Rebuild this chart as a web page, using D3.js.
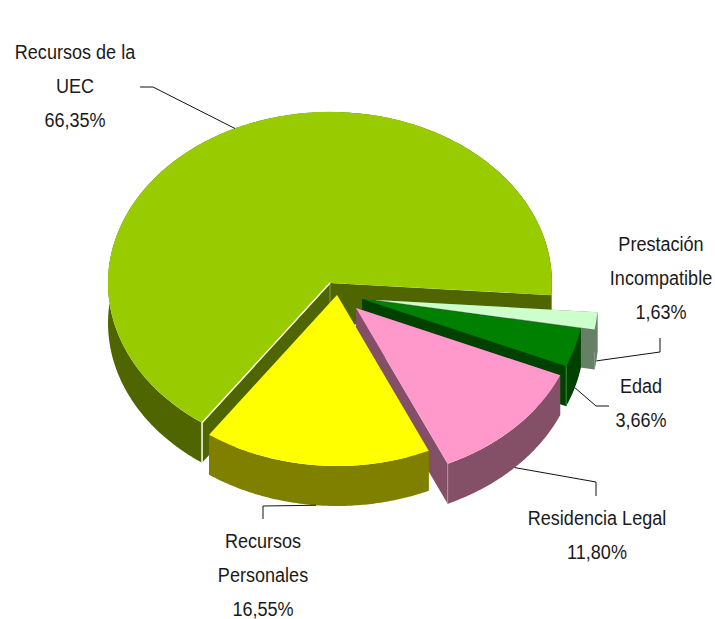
<!DOCTYPE html>
<html>
<head>
<meta charset="utf-8">
<script src="https://cdn.jsdelivr.net/npm/d3@7"></script>
<style>
    html, body { margin: 0; padding: 0; background: #fff; }
    text { font-family: "Liberation Sans", Arial, sans-serif; font-size: 21px; fill: #1a1a1a; }
</style>
</head>
<body>
<div id="chart"></div>
<script>
// chart values
const categories = ["Recursos de la UEC", "Prestación Incompatible", "Edad", "Residencia Legal", "Recursos Personales"];
const percents = [66.35, 1.63, 3.66, 11.80, 16.55];

// label lines per slice
const labelLines = [["Recursos de la", "UEC"], ["Prestación", "Incompatible"], ["Edad"], ["Residencia Legal"], ["Recursos", "Personales"]];

const topColors = ["#99cc00", "#ccffcc", "#008000", "#ff99cc", "#ffff00"];
const wallColors = ["#4f6600", "#668066", "#004000", "#845068", "#808000"];
const edgeColors = ["#ffffff", null, "#2f8a2f", "#c08ca6", null];

const width = 715, height = 619;
const depth = 40;
const narrow = 0.86; // the reference font is a narrow one, none is installed

// how far each slice is pulled out of the pie
const pullX = [0, 46, 32, 26, 7];
const pullY = [0, 17, 16, 25, 12];

// label anchors and elbows of the leader lines
const labelX = [75, 661, 641, 597, 263];
const labelY = [59, 251, 393, 525, 548];
const elbows = [
    [[153, 87], [140, 87]],
    [[660, 352], [660, 338]],
    [[596, 406], [609, 406]],
    [[596, 482], [596, 496]],
    [[263, 506], [263, 519]]
];

let svg = d3.select("#chart").append("svg")
    .attr("width", width)
    .attr("height", height)
    .style("display", "block");

// the pie is a unit circle squashed to an ellipse by these two scales
let x = d3.scaleLinear().domain([-1, 1]).range([108, 552]);
let y = d3.scaleLinear().domain([-1, 1]).range([112, 454]);

let pie = d3.pie()
    .value(d => d)
    .sort(null)
    .startAngle(215.2 * Math.PI / 180)
    .endAngle((215.2 + 360) * Math.PI / 180);

let slices = pie(percents);
let pct = d3.formatLocale({decimal: ",", thousands: ".", grouping: [3], currency: ["", ""]}).format(".2f");
let line = d3.line();

// point on the rim (or the centre with r = 0) of slice i
function rim(i, angle, r, down) {
    return [
        x(r * Math.sin(angle)) + pullX[i],
        y(-r * Math.cos(angle)) + pullY[i] + (down || 0)
    ];
}

function strokeEdge(g, pts, color, w) {
    g.append("path")
        .attr("d", line(pts))
        .attr("fill", "none")
        .attr("stroke", color)
        .attr("stroke-width", w);
}

function drawSlice(d, i) {
    let g = svg.append("g").attr("class", "slice");

    // outer wall, the top face hides the back part of it
    let angles = d3.range(d.startAngle, d.endAngle, 0.01).concat([d.endAngle]);
    let top = angles.map(a => rim(i, a, 1));
    let bottom = angles.map(a => rim(i, a, 1, depth)).reverse();
    g.append("path")
        .attr("d", line(top.concat(bottom)) + "Z")
        .attr("fill", wallColors[i]);

    // the two cut walls going into the centre
    [d.startAngle, d.endAngle].forEach(a => {
        g.append("path")
            .attr("d", line([rim(i, 0, 0), rim(i, a, 1), rim(i, a, 1, depth), rim(i, 0, 0, depth)]) + "Z")
            .attr("fill", wallColors[i]);
    });

    // top face
    let arc = d3.arc().innerRadius(0).outerRadius(1);
    g.append("path")
        .attr("d", arc(d))
        .attr("transform", "translate(" + (x(0) + pullX[i]) + "," + (y(0) + pullY[i]) + ") scale(" + (x(1) - x(0)) + "," + (y(1) - y(0)) + ")")
        .attr("fill", topColors[i]);

    // thin light lines on the corners of the walls
    if (i == 0) {
        let a = d.startAngle;
        strokeEdge(g, [rim(i, 0, 0), rim(i, 0, 0, depth)], "#8a9a50", 1);
        strokeEdge(g, [rim(i, d.endAngle, 1), rim(i, d.endAngle, 1, depth)], "#8a9a50", 1);
        strokeEdge(g, [rim(i, 0, 0), rim(i, a, 1), rim(i, a, 1, depth)], edgeColors[i], 1.5);
    } else if (edgeColors[i]) {
        strokeEdge(g, [rim(i, d.endAngle, 1), rim(i, d.endAngle, 1, depth)], edgeColors[i], 1);
    }
}

slices.forEach(drawSlice);

// leader lines start at the middle of the slice rim
slices.forEach((d, i) => {
    let mid = (d.startAngle + d.endAngle) / 2;
    let start = rim(i, mid, 1, i == 0 ? 0 : depth);
    svg.append("path")
        .attr("d", line([start].concat(elbows[i])))
        .attr("fill", "none")
        .attr("stroke", "#111")
        .attr("stroke-width", 1);
});

// labels
slices.forEach((d, i) => {
    let rows = labelLines[i].concat([pct(percents[i]) + "%"]);
    svg.append("g")
        .attr("transform", "translate(" + labelX[i] + "," + labelY[i] + ") scale(" + narrow + ",1)")
        .selectAll("text")
        .data(rows)
        .enter()
        .append("text")
        .attr("text-anchor", "middle")
        .attr("y", (t, j) => j * 34)
        .text(t => t);
});
</script>
</body>
</html>
